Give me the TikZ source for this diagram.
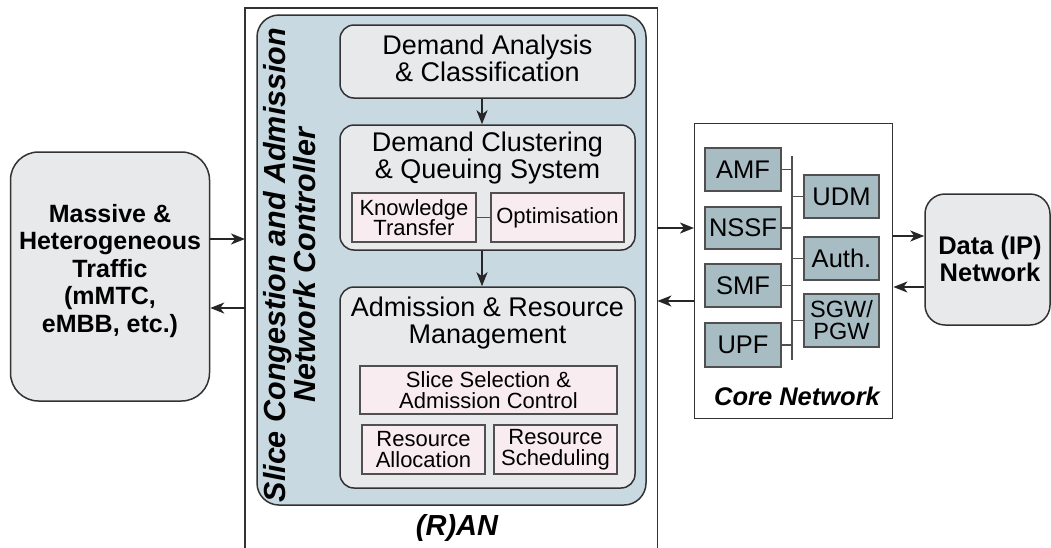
\documentclass[tikz,border=0pt]{standalone}
\usepackage{fontspec}
\setmainfont{Liberation Sans}
\usetikzlibrary{arrows.meta}
\definecolor{ctrlblue}{RGB}{200,217,225}
\definecolor{boxgrey}{RGB}{232,233,235}
\definecolor{pinkbox}{RGB}{249,236,240}
\definecolor{corebox}{RGB}{168,188,196}
\definecolor{edge}{RGB}{50,50,50}
\definecolor{edgetwo}{RGB}{80,80,80}
\begin{document}
\begin{tikzpicture}[x=1pt,y=-1pt,
  arr/.style={-{Stealth[length=14pt,width=11pt,inset=4pt]},line width=1.8pt,draw=black!85},
  roundbox/.style={draw=edge,line width=1.5pt,fill=boxgrey,rounded corners=14pt,inner sep=0pt},
  pinkbx/.style={draw=edgetwo,line width=1.3pt,fill=pinkbox,inner sep=0pt,align=center,
    font=\fontsize{22}{20.5}\selectfont},
  corebx/.style={draw=edgetwo,line width=1.3pt,fill=corebox,inner sep=0pt,align=center,
    minimum width=76pt,font=\fontsize{25.5}{23}\selectfont},
  bigtxt/.style={align=center,inner sep=0pt,font=\fontsize{27}{27}\selectfont},
  bus/.style={draw=edgetwo,line width=1.3pt}
]
\useasboundingbox (0,0) rectangle (1051,547);

% left traffic box
\node[draw=edge,line width=1.5pt,fill=boxgrey,rounded corners=28pt,minimum width=199pt,minimum height=249pt,inner sep=0pt] (traffic) at (110,276.5) {};
\node[align=center,inner sep=0pt,font=\bfseries\fontsize{25}{27.5}\selectfont] (traffictxt) at (110,271) {Massive \&\\Heterogeneous\\Traffic\\(mMTC,\\eMBB, etc.)};

% RAN container
\node[minimum width=412pt,minimum height=545pt,inner sep=0pt,anchor=north west] (ran) at (245,8) {};
\draw[draw=edge,line width=1.4pt] (ran.south west) -- (ran.north west) -- (ran.north east) -- (ran.south east);
\node[font=\bfseries\itshape\fontsize{29}{29}\selectfont,inner sep=0pt] (rantxt) at (457,528) {(R)AN};

% controller
\node[draw=edge,line width=1.5pt,fill=ctrlblue,rounded corners=22pt,minimum width=389pt,minimum height=490pt,inner sep=0pt] (ctrl) at (451.5,260) {};
\node[rotate=90,align=center,inner sep=0pt,font=\bfseries\itshape\fontsize{30.5}{30}\selectfont] (ctrltxt) at (290,265) {Slice Congestion and Admission\\Network Controller};

% demand analysis
\node[roundbox,minimum width=295pt,minimum height=73pt] (da) at (487.5,61.5) {};
\node[bigtxt] (datxt) at (487.5,58) {Demand Analysis\\\& Classification};

% clustering
\node[roundbox,minimum width=295pt,minimum height=125pt] (dc) at (487.5,187.5) {};
\node[bigtxt,anchor=north] (dctxt) at (487.5,132) {Demand Clustering\\\& Queuing System};
\node[pinkbx,minimum width=124pt,minimum height=49pt] (kt) at (414,217.5) {Knowledge\\Transfer};
\node[pinkbx,minimum width=133pt,minimum height=49pt] (opt) at (557.5,217.5) {Optimisation};
\draw[bus] (kt) -- (opt);

% admission
\node[roundbox,minimum width=295pt,minimum height=201pt] (arm) at (487.5,387.5) {};
\node[bigtxt,anchor=north] (armtxt) at (487.5,297) {Admission \& Resource\\Management};
\node[pinkbx,minimum width=257pt,minimum height=48pt] (ssac) at (488.5,390) {Slice Selection \&\\Admission Control};
\node[pinkbx,minimum width=123pt,minimum height=49pt] (ra) at (423.5,449.5) {Resource\\Allocation};
\node[pinkbx,minimum width=123pt,minimum height=49pt] (rs) at (555.5,449.5) {Resource\\Scheduling};

\draw[arr] (da.south -| 482,0) -- (dc.north -| 482,0);
\draw[arr] (dc.south -| 482,0) -- (arm.north -| 482,0);

% core network
\node[draw=edge,line width=1.4pt,fill=white,minimum width=198pt,minimum height=295pt,inner sep=0pt,anchor=north west] (core) at (694,123) {};
\node[font=\bfseries\itshape\fontsize{25.5}{25}\selectfont,inner sep=0pt] (coretxt) at (797,396) {Core Network};
\node[corebx,minimum height=43pt] (amf) at (743,169.5) {AMF};
\node[corebx,minimum height=42pt] (nssf) at (743,228) {NSSF};
\node[corebx,minimum height=43pt] (smf) at (743,285.5) {SMF};
\node[corebx,minimum height=44pt] (upf) at (743,345) {UPF};
\node[corebx,minimum width=75pt,minimum height=43pt] (udm) at (841.5,196.5) {UDM};
\node[corebx,minimum width=75pt,minimum height=43pt] (auth) at (841.5,258.5) {Auth.};
\node[corebx,minimum width=75pt,minimum height=53pt,font=\fontsize{23.5}{22}\selectfont] (sgw) at (841.5,320.5) {SGW/\\PGW};
\coordinate (bustop) at (792,156);
\coordinate (busbot) at (792,360);
\draw[bus] (bustop) -- (busbot);
\foreach \n in {amf,nssf,smf,upf}{\draw[bus] (\n.east) -- (\n.east -| bustop);}
\foreach \n in {udm,auth,sgw}{\draw[bus] (\n.west) -- (\n.west -| bustop);}

% data network
\node[draw=edge,line width=1.5pt,fill=boxgrey,rounded corners=20pt,minimum width=125pt,minimum height=131pt,inner sep=0pt] (data) at (987.5,259.5) {};
\node[align=center,inner sep=0pt,font=\bfseries\fontsize{25.5}{27}\selectfont] (datatxt) at (990,259) {Data (IP)\\Network};

% connectors
\draw[arr] (traffic.east |- 0,239) -- (ran.west |- 0,239);
\draw[arr] (ran.west |- 0,308) -- (traffic.east |- 0,308);
\draw[arr] (ran.east |- 0,228) -- (core.west |- 0,228);
\draw[arr] (core.west |- 0,301) -- (ran.east |- 0,301);
\draw[arr] (core.east |- 0,236) -- (data.west |- 0,236);
\draw[arr] (data.west |- 0,287) -- (core.east |- 0,287);
\end{tikzpicture}
\end{document}
